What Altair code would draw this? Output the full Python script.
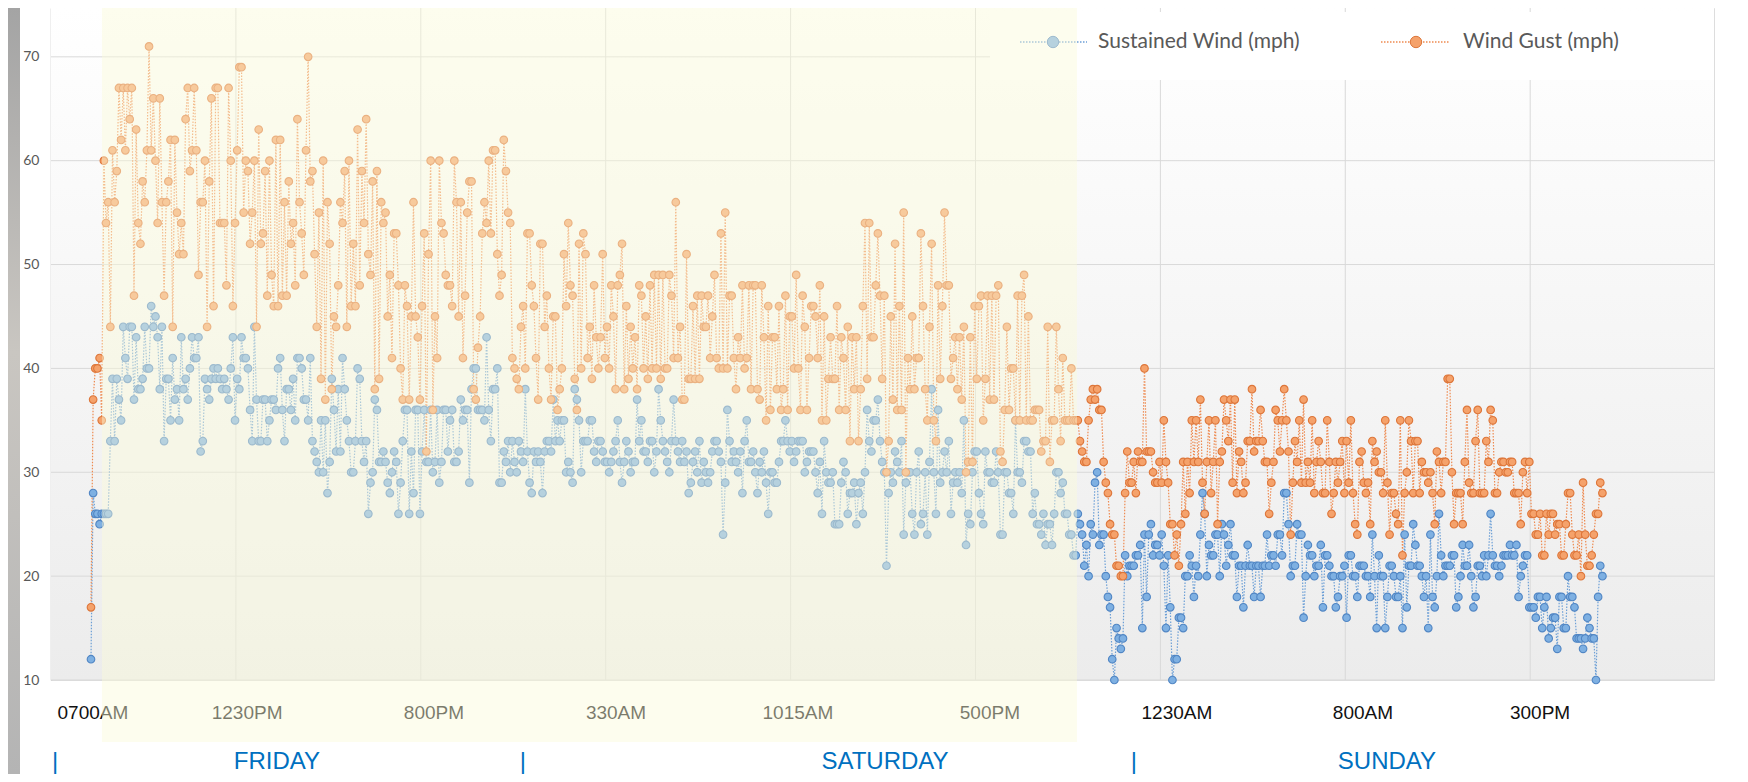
import altair as alt
import pandas as pd

# ---- readings (mph), one per 5-minute step, Fri 07:00 -> Sun ~17:35, split per gridline block ----
sustained_b0 = [12, 28, 26, 26, 25, 26, 26, 26, 26, 33, 39, 33, 39, 37, 35, 44, 41, 39, 44, 44,
                37, 43, 38, 38, 39, 44, 40, 40, 46, 44, 45, 43, 38, 44, 33, 39, 39, 35, 41, 37,
                38, 35, 43, 38, 39, 37, 40, 43, 41, 41, 43, 32, 33, 39, 38, 37, 39, 40, 39, 40,
                39, 38, 39, 38, 37, 40, 43, 35]
gust_b0 = [17, 37, 40, 40, 41, 35, 60, 54, 56, 44, 61, 56, 59, 67, 62, 67, 61, 67, 64, 67,
           47, 63, 54, 52, 58, 56, 61, 71, 61, 66, 60, 54, 66, 56, 47, 56, 58, 62, 44, 62,
           55, 51, 54, 51, 64, 67, 59, 61, 67, 61, 49, 56, 56, 60, 44, 58, 66, 46, 67, 67,
           54, 54, 54, 48, 67, 60, 46, 54]
sustained_b1 = [39, 38, 43, 41, 41, 40, 36, 33, 44, 37, 33, 33, 37, 37, 33, 35, 37, 37, 36, 40,
                41, 36, 33, 38, 38, 36, 39, 35, 41, 41, 40, 37, 37, 35, 41, 33, 32, 31, 30, 35,
                30, 35, 28, 31, 39, 36, 32, 38, 32, 41, 38, 35, 33, 30, 30, 33, 40, 39, 33, 31,
                33, 26, 29, 30, 37, 36, 31, 31, 32, 31, 29, 28, 30, 32, 31, 26, 29, 33, 36, 36,
                26, 32, 28, 36, 36, 26]
gust_b1 = [61, 69, 69, 55, 60, 59, 52, 55, 60, 44, 63, 52, 53, 59, 47, 60, 49, 46, 62, 46,
           62, 47, 56, 47, 58, 52, 54, 48, 64, 56, 53, 49, 61, 70, 58, 59, 51, 44, 55, 39,
           60, 37, 56, 52, 38, 45, 44, 48, 56, 54, 59, 44, 60, 46, 52, 46, 63, 48, 59, 54,
           64, 51, 49, 58, 38, 59, 39, 56, 54, 55, 45, 49, 41, 53, 53, 48, 40, 37, 48, 46,
           37, 45, 56, 45, 43, 37]
sustained_b2 = [32, 36, 31, 31, 36, 30, 31, 36, 29, 31, 36, 36, 32, 35, 36, 31, 31, 32, 37, 35,
                36, 36, 29, 38, 40, 40, 36, 36, 36, 35, 43, 36, 33, 38, 38, 40, 29, 29, 32, 31,
                33, 30, 33, 31, 30, 33, 32, 31, 38, 32, 29, 28, 32, 31, 32, 31, 28, 32, 33, 33,
                32, 37, 33, 35, 33, 35, 35, 30, 31, 30, 29, 38, 37, 35, 30, 33, 33, 33, 35, 35,
                32, 31, 33, 33, 32, 31]
gust_b2 = [46, 53, 32, 51, 60, 36, 45, 41, 60, 54, 53, 49, 48, 48, 46, 60, 56, 45, 56, 41,
           47, 55, 58, 58, 38, 37, 42, 45, 53, 56, 54, 60, 53, 61, 61, 51, 47, 49, 62, 59,
           55, 54, 41, 40, 39, 38, 44, 46, 40, 53, 53, 48, 46, 41, 37, 52, 52, 44, 47, 40,
           37, 45, 45, 36, 38, 40, 51, 46, 54, 48, 47, 39, 36, 52, 40, 53, 51, 41, 44, 39,
           48, 43, 40, 43, 51, 41]
sustained_b3 = [31, 30, 31, 32, 33, 35, 31, 29, 31, 33, 32, 30, 31, 31, 37, 33, 35, 32, 32, 31,
                33, 33, 30, 32, 38, 35, 33, 32, 31, 30, 33, 37, 33, 32, 31, 33, 31, 32, 28, 29,
                31, 32, 30, 33, 29, 31, 30, 29, 30, 32, 33, 33, 32, 31, 24, 29, 36, 33, 31, 32,
                31, 30, 32, 28, 33, 35, 31, 31, 32, 30, 28, 31, 30, 32, 29, 26, 30, 30, 29, 29,
                31, 33, 33, 35, 33, 32]
gust_b3 = [44, 40, 48, 45, 38, 48, 49, 52, 38, 46, 39, 44, 40, 43, 38, 48, 47, 40, 45, 39,
           48, 40, 49, 40, 49, 39, 49, 40, 40, 49, 47, 41, 56, 41, 44, 37, 37, 51, 39, 39,
           46, 39, 47, 39, 47, 44, 44, 47, 41, 45, 49, 41, 40, 53, 40, 55, 40, 47, 47, 41,
           38, 43, 41, 48, 40, 41, 48, 38, 48, 48, 38, 37, 48, 43, 35, 46, 36, 43, 43, 38,
           46, 36, 38, 47, 36, 45]
sustained_b4 = [33, 31, 32, 33, 33, 33, 30, 31, 32, 32, 32, 30, 28, 31, 26, 33, 30, 29, 29, 30,
                25, 25, 25, 29, 31, 30, 26, 28, 28, 29, 25, 28, 29, 26, 30, 36, 33, 32, 35, 35,
                37, 33, 31, 30, 21, 28, 30, 29, 32, 31, 30, 33, 24, 29, 30, 30, 26, 24, 30, 32,
                25, 26, 30, 24, 31, 38, 30, 26, 36, 29, 30, 32, 30, 33, 26, 29, 30, 29, 30, 28,
                35, 23, 26, 25, 30, 32]
gust_b4 = [45, 40, 49, 40, 36, 47, 44, 36, 41, 46, 46, 45, 41, 48, 35, 45, 35, 39, 43, 39,
           39, 46, 36, 43, 41, 36, 44, 33, 43, 38, 43, 33, 38, 46, 54, 39, 54, 43, 43, 48,
           53, 47, 39, 47, 30, 33, 45, 37, 52, 36, 46, 36, 55, 30, 41, 38, 45, 38, 41, 41,
           53, 46, 38, 35, 44, 52, 35, 33, 48, 39, 46, 55, 48, 48, 39, 41, 43, 38, 43, 37,
           44, 30, 31, 43, 31, 46]
sustained_b5 = [32, 28, 26, 25, 32, 30, 30, 29, 29, 32, 30, 24, 24, 30, 30, 28, 28, 26, 35, 30,
                30, 29, 33, 33, 32, 32, 26, 28, 25, 25, 24, 26, 23, 25, 25, 23, 26, 30, 30, 28,
                29, 26, 26, 24, 24, 22, 22, 26, 25, 24, 21, 23, 20, 25, 24, 29, 30, 23, 24, 24,
                20, 18, 17, 12, 10, 15, 14, 13, 14, 22, 20, 21, 21, 21, 22, 22, 23, 15, 24, 18,
                24, 25, 22, 23, 23, 22]
gust_b5 = [39, 46, 47, 35, 39, 47, 37, 47, 37, 47, 48, 32, 31, 36, 44, 36, 40, 40, 35, 47,
           35, 47, 49, 35, 45, 35, 35, 36, 36, 36, 32, 33, 33, 44, 31, 35, 35, 44, 38, 33,
           41, 35, 35, 35, 40, 35, 35, 35, 33, 32, 31, 31, 35, 37, 38, 37, 38, 36, 36, 31,
           29, 28, 25, 24, 24, 21, 21, 20, 20, 28, 32, 29, 29, 31, 28, 32, 31, 31, 40, 32,
           32, 32, 30, 29, 29, 31]
sustained_b6 = [24, 21, 15, 22, 17, 10, 12, 12, 16, 16, 15, 20, 20, 22, 21, 18, 21, 20, 24, 28,
                26, 20, 23, 22, 22, 24, 24, 20, 25, 24, 21, 23, 25, 22, 22, 18, 21, 21, 17, 21,
                23, 21, 21, 18, 21, 21, 18, 21, 21, 24, 21, 22, 22, 21, 24, 24, 22, 28, 28, 25,
                20, 21, 21, 25, 24, 24, 16, 20, 23, 22, 22, 20, 21, 21, 23, 17, 22, 22, 21, 20,
                20, 17, 18, 20, 20, 21]
gust_b6 = [29, 35, 31, 29, 25, 25, 22, 24, 21, 25, 31, 26, 31, 28, 35, 31, 35, 31, 37, 29,
           26, 31, 35, 28, 31, 35, 25, 31, 32, 37, 35, 33, 37, 29, 37, 28, 32, 31, 28, 29,
           33, 33, 38, 32, 33, 33, 36, 33, 31, 31, 26, 29, 31, 36, 35, 32, 35, 38, 35, 32,
           24, 29, 33, 31, 35, 29, 37, 29, 31, 29, 35, 28, 31, 33, 31, 28, 28, 35, 31, 26,
           28, 31, 29, 31, 33, 28]
sustained_b7 = [16, 22, 22, 20, 20, 18, 21, 21, 21, 20, 20, 18, 24, 20, 15, 22, 20, 20, 15, 18,
                21, 21, 20, 18, 18, 20, 15, 24, 17, 21, 21, 25, 23, 21, 21, 20, 18, 20, 15, 24,
                18, 17, 20, 26, 22, 20, 21, 21, 21, 22, 22, 17, 18, 20, 23, 21, 21, 23, 20, 17,
                18, 21, 21, 20, 22, 20, 22, 26, 22, 21, 21, 20, 21, 22, 22, 22, 23, 22, 22, 23,
                18, 20, 21, 22, 22, 17]
gust_b7 = [33, 29, 35, 28, 25, 24, 31, 32, 29, 28, 29, 25, 33, 31, 32, 30, 30, 28, 35, 29,
           24, 28, 28, 26, 25, 35, 22, 28, 30, 35, 33, 28, 33, 33, 28, 31, 30, 30, 29, 30,
           28, 25, 32, 31, 28, 31, 31, 39, 39, 30, 25, 28, 28, 28, 25, 31, 36, 29, 28, 28,
           33, 36, 28, 28, 28, 33, 31, 36, 35, 28, 28, 30, 31, 31, 30, 30, 31, 31, 28, 28,
           28, 25, 30, 31, 28, 31]
sustained_b8 = [17, 17, 16, 18, 18, 15, 17, 18, 14, 15, 16, 16, 13, 18, 18, 15, 15, 20, 18, 18,
                17, 14, 14, 14, 13, 14, 16, 15, 14, 14, 10, 18, 21, 20]
gust_b8 = [26, 26, 24, 24, 26, 22, 22, 26, 24, 26, 26, 24, 25, 25, 22, 22, 25, 28, 28, 24,
           22, 22, 24, 20, 29, 24, 21, 21, 22, 24, 26, 26, 29, 28]

# axis / annotation text and positions (in reading-index units)
tick_labels = ["0700AM", "1230PM", "800PM", "330AM", "1015AM", "500PM", "1230AM", "800AM", "300PM"]
tick_pos = [0.9, 72.6, 159.5, 244.2, 328.8, 418.1, 505.1, 591.6, 674.0]
grid_pos = [67.4, 153.4, 239.4, 325.4, 411.4, 497.4, 583.4, 669.4]
y_ticks = [10, 20, 30, 40, 50, 60, 70]
day_names = ["FRIDAY", "SATURDAY", "SUNDAY"]
day_pos = [86.5, 369.3, 602.8]
sep_pos = [-16.7, 200.9, 485.1]
highlight_start = [5.1]
highlight_end = [458.6]
series_names = ["Sustained Wind (mph)", "Wind Gust (mph)"]

sustained = (sustained_b0 + sustained_b1 + sustained_b2 + sustained_b3 + sustained_b4
             + sustained_b5 + sustained_b6 + sustained_b7 + sustained_b8)
gust = (gust_b0 + gust_b1 + gust_b2 + gust_b3 + gust_b4
        + gust_b5 + gust_b6 + gust_b7 + gust_b8)
n = min(len(sustained), len(gust))
df = pd.DataFrame({"i": list(range(n)), "sustained": sustained[:n], "gust": gust[:n]})

W, H = 1663, 672
xs = alt.Scale(domain=[-18.6, 754.9], nice=False, zero=False)
ys = alt.Scale(domain=[10, 74.7], nice=False, zero=False)
yaxis = alt.Axis(values=y_ticks, title=None, grid=False, ticks=False,
                 domain=True, domainColor="#BFBFBF", domainWidth=1.5, labelFont="Lato",
                 labelFontSize=14, labelColor="#595959", labelPadding=12)

BLUE_LINE, BLUE_FILL, BLUE_EDGE = "#6C9FD6", "#7EB0E2", "#5186C4"
ORG_LINE, ORG_FILL, ORG_EDGE = "#EE8A50", "#F5A26B", "#DD763A"
PT_SIZE = 58

one = pd.DataFrame({"a": [0]})

# left photo strip
strip = alt.Chart(one).mark_rect(
    color=alt.LinearGradient(gradient="linear",
                             stops=[alt.GradientStop(color="#A4A4A4", offset=0),
                                    alt.GradientStop(color="#C9C6C1", offset=0.45),
                                    alt.GradientStop(color="#B4B4B4", offset=1)],
                             x1=0, x2=0, y1=0, y2=1)
).encode(x=alt.value(-43), x2=alt.value(-31), y=alt.value(0), y2=alt.value(766))

plot_bg = alt.Chart(one).mark_rect(
    color=alt.LinearGradient(gradient="linear",
                             stops=[alt.GradientStop(color="#FFFFFF", offset=0),
                                    alt.GradientStop(color="#ECECEC", offset=1)],
                             x1=0, x2=0, y1=0, y2=1)
).encode(x=alt.value(0), x2=alt.value(W), y=alt.value(0), y2=alt.value(H))

vgrid = alt.Chart(pd.DataFrame({"g": grid_pos})).mark_rule(color="#D9D9D9", strokeWidth=1).encode(
    x=alt.X("g:Q", scale=xs, axis=None), y=alt.value(0), y2=alt.value(H))
hgrid = alt.Chart(pd.DataFrame({"v": y_ticks})).mark_rule(color="#D9D9D9", strokeWidth=1).encode(
    y=alt.Y("v:Q", scale=ys, axis=yaxis), x=alt.value(0), x2=alt.value(W))

line_s = alt.Chart(df).mark_line(color=BLUE_LINE, strokeWidth=1.2, strokeDash=[1.5, 1.5]).encode(
    x=alt.X("i:Q", scale=xs, axis=None), y=alt.Y("sustained:Q", scale=ys, axis=yaxis))
pts_s = alt.Chart(df).mark_point(shape="circle", filled=True, size=PT_SIZE, fill=BLUE_FILL, stroke=BLUE_EDGE,
                                 strokeWidth=1.1, opacity=1).encode(
    x=alt.X("i:Q", scale=xs, axis=None), y=alt.Y("sustained:Q", scale=ys, axis=yaxis))
line_g = alt.Chart(df).mark_line(color=ORG_LINE, strokeWidth=1.2, strokeDash=[1.5, 1.5]).encode(
    x=alt.X("i:Q", scale=xs, axis=None), y=alt.Y("gust:Q", scale=ys, axis=yaxis))
pts_g = alt.Chart(df).mark_point(shape="circle", filled=True, size=PT_SIZE, fill=ORG_FILL, stroke=ORG_EDGE,
                                 strokeWidth=1.1, opacity=1).encode(
    x=alt.X("i:Q", scale=xs, axis=None), y=alt.Y("gust:Q", scale=ys, axis=yaxis))

xlab = alt.Chart(pd.DataFrame({"p": tick_pos, "t": tick_labels})).mark_text(
    font="Liberation Sans", fontSize=19, color="#111111", baseline="middle", align="center").encode(
    x=alt.X("p:Q", scale=xs, axis=None), y=alt.value(705), text="t:N")

# legend box and entries
leg_box = alt.Chart(one).mark_rect(color="#FFFFFF").encode(
    x=alt.value(939), x2=alt.value(1663), y=alt.value(4), y2=alt.value(72))
leg_df = pd.DataFrame({"name": series_names})
leg_line_s = alt.Chart(leg_df.iloc[[0]]).mark_rule(color=BLUE_LINE, strokeWidth=1.6, strokeDash=[1.5, 1.5]).encode(
    x=alt.value(969), x2=alt.value(1036), y=alt.value(34))
leg_line_g = alt.Chart(leg_df.iloc[[1]]).mark_rule(color=ORG_LINE, strokeWidth=1.6, strokeDash=[1.5, 1.5]).encode(
    x=alt.value(1330), x2=alt.value(1399), y=alt.value(34))
leg_pt_s = alt.Chart(leg_df.iloc[[0]]).mark_point(shape="circle", filled=True, size=130, fill=BLUE_FILL,
                                                  stroke=BLUE_EDGE, strokeWidth=1, opacity=1).encode(
    x=alt.value(1002), y=alt.value(34))
leg_pt_g = alt.Chart(leg_df.iloc[[1]]).mark_point(shape="circle", filled=True, size=130, fill=ORG_FILL,
                                                  stroke=ORG_EDGE, strokeWidth=1, opacity=1).encode(
    x=alt.value(1365), y=alt.value(34))
leg_txt_s = alt.Chart(leg_df.iloc[[0]]).mark_text(font="Lato", fontSize=21, color="#595959",
                                                  align="left", baseline="middle").encode(
    x=alt.value(1047), y=alt.value(34), text="name:N")
leg_txt_g = alt.Chart(leg_df.iloc[[1]]).mark_text(font="Lato", fontSize=21, color="#595959",
                                                  align="left", baseline="middle").encode(
    x=alt.value(1412), y=alt.value(34), text="name:N")

overlay = alt.Chart(pd.DataFrame({"s": highlight_start, "e": highlight_end})).mark_rect(
    color="#FBFBDA", opacity=0.45).encode(
    x=alt.X("s:Q", scale=xs, axis=None), x2="e:Q", y=alt.value(0), y2=alt.value(734))

days = alt.Chart(pd.DataFrame({"p": day_pos, "t": day_names})).mark_text(
    font="Liberation Sans", fontSize=24, color="#0070C0", baseline="middle", align="center").encode(
    x=alt.X("p:Q", scale=xs, axis=None), y=alt.value(754), text="t:N")
seps = alt.Chart(pd.DataFrame({"p": sep_pos, "t": ["|", "|", "|"]})).mark_text(
    font="Liberation Sans", fontSize=24, color="#0070C0", baseline="middle", align="center").encode(
    x=alt.X("p:Q", scale=xs, axis=None), y=alt.value(754), text="t:N")

chart = alt.layer(
    strip, plot_bg, hgrid, vgrid, line_s, line_g, pts_s, pts_g, xlab,
    leg_box, leg_line_s, leg_pt_s, leg_line_g, leg_pt_g, leg_txt_s, leg_txt_g,
    overlay, days, seps
).properties(
    width=W, height=H,
    padding={"left": 43, "top": 0, "right": 20, "bottom": 94},
    autosize=alt.AutoSizeParams(type="none"),
).configure_view(
    stroke="#D9D9D9",
).configure(background="#FFFFFF")

chart.save("out.html", embed_options={"renderer": "svg", "actions": False})
